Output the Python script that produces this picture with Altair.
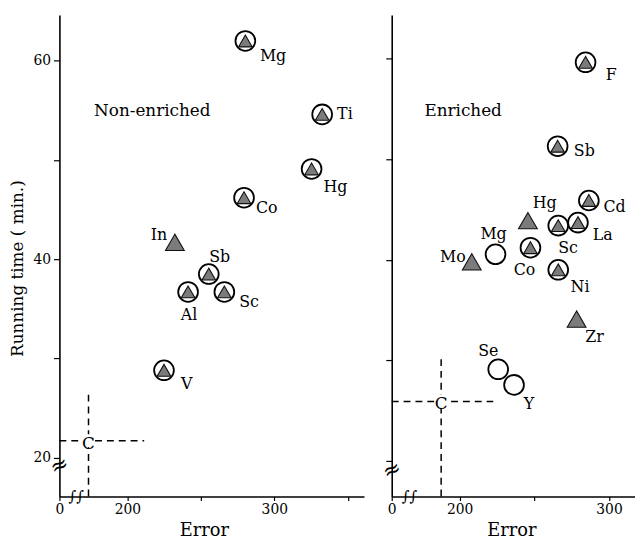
import altair as alt
import pandas as pd

FONT = "DejaVu Serif"

# ---------------- data ----------------
# Non-enriched panel
left_el = ["Mg", "Ti", "Hg", "Co", "In", "Sb", "Al", "Sc", "V"]
left_err = [280.3, 332.6, 325.4, 279.4, 232.3, 255.4, 241.3, 266.0, 224.9]
left_time = [62.0, 54.6, 49.1, 46.2, 41.7, 38.5, 36.7, 36.7, 28.8]
left_kind = ["ring_tri", "ring_tri", "ring_tri", "ring_tri", "tri",
             "ring_tri", "ring_tri", "ring_tri", "ring_tri"]
left_control = {"err": 173.5, "time": 21.7, "err_end": 211.4, "time_end": 26.6}

# Enriched panel
right_el = ["F", "Sb", "Cd", "Hg", "Sc", "La", "Mg", "Co", "Mo", "Ni", "Zr", "Se", "Y"]
right_err = [284.3, 265.6, 286.5, 245.7, 266.0, 279.2, 224.0, 247.4, 208.1, 266.0, 278.3, 225.8, 236.4]
right_time = [59.65, 51.3, 45.9, 43.9, 43.4, 43.7, 40.55, 41.2, 39.8, 39.0, 34.1, 29.1, 27.55]
right_kind = ["ring_tri", "ring_tri", "ring_tri", "tri", "ring_tri", "ring_tri", "ring",
              "ring_tri", "tri", "ring_tri", "tri", "ring", "ring"]
right_control = {"err": 187.6, "time": 25.9, "err_end": 222.5, "time_end": 30.1}

y_ticks = [20, 30, 40, 50, 60]

# ---------------- layout / style (pixels) ----------------
left_label_off = [(28, 15), (23, 0), (24, 18), (23, 10), (-16, -7), (11, -17), (1, 23), (25, 10), (23, 14)]
right_label_off = [(26, 13), (27, 5), (26, 7), (17, -18), (10, 23), (25, 13), (-2, -20), (-6, 23),
                   (-19, -5), (22, 17), (18, 18), (-10, -18), (15, 19)]


def panel(name, el, err, time, kind, offs, control, xdom, ydom, w, h,
          xticks, show_y_labels, tag_pos, brk, xtitle_x):
    kx = w / (xdom[1] - xdom[0])
    ky = h / (ydom[1] - ydom[0])
    pts = pd.DataFrame({"x": err, "y": time, "el": el, "kind": kind})
    labels = pd.DataFrame({
        "x": [e + o[0] / kx for e, o in zip(err, offs)],
        "y": [t - o[1] / ky for t, o in zip(time, offs)],
        "el": el,
    })

    xlab_expr = ("datum.value < 190 ? '0' : ((datum.value == 200 || datum.value == 300) ? datum.label : '')")
    X = alt.X("x:Q", scale=alt.Scale(domain=xdom, nice=False, zero=False),
              axis=alt.Axis(values=[xdom[0]] + xticks, labelExpr=xlab_expr, title="Error",
                            tickSize=4, labelPadding=2, titleFontSize=18, titlePadding=5,
                            labelFontSize=14, labelFlush=False, titleX=xtitle_x))
    if show_y_labels:
        yaxis = alt.Axis(values=y_ticks, labelExpr="datum.value % 20 == 0 ? datum.label : ''",
                         title="Running time  ( min.)", tickSize=6, labelPadding=3,
                         titleFontSize=17, titlePadding=7, labelFontSize=14, titleY=256)
    else:
        yaxis = alt.Axis(values=y_ticks, labels=False, title=None, tickSize=6)
    Y = alt.Y("y:Q", scale=alt.Scale(domain=ydom, nice=False, zero=False), axis=yaxis)

    rules = pd.DataFrame({
        "x": [control["err"], xdom[0]],
        "x2": [control["err"], control["err_end"]],
        "y": [ydom[0], control["time"]],
        "y2": [control["time_end"], control["time"]],
    })
    cpt = pd.DataFrame({"x": [control["err"]], "y": [control["time"]], "t": ["C"]})
    tag = pd.DataFrame({"x": [tag_pos[0]], "y": [tag_pos[1]], "t": [name]})
    brk_df = pd.DataFrame({"x": [xdom[0], brk[0]], "y": [brk[1], ydom[0]], "t": ["≈", "∫∫"]})

    base_rule = alt.Chart(rules).mark_rule(color="black", strokeWidth=1.5, strokeDash=[7, 5]).encode(
        x=X, y=Y, x2="x2:Q", y2="y2:Q")
    c_bg = alt.Chart(cpt).mark_point(shape="square", filled=True, color="white", size=170,
                                     opacity=1).encode(x=X, y=Y)
    c_txt = alt.Chart(cpt).mark_text(font=FONT, fontSize=17, color="black", dy=3).encode(
        x=X, y=Y, text="t:N")
    rings = alt.Chart(pts).transform_filter(
        "datum.kind == 'ring_tri' || datum.kind == 'ring'").mark_point(
        shape="circle", filled=False, size=400, stroke="black", strokeWidth=1.8, opacity=1).encode(x=X, y=Y)
    small_tri = alt.Chart(pts).transform_filter("datum.kind == 'ring_tri'").mark_point(
        shape="triangle-up", filled=True, fill="#7b7b7b", stroke="#111111", strokeWidth=1.1,
        size=190, opacity=1).encode(x=X, y=Y)
    big_tri = alt.Chart(pts).transform_filter("datum.kind == 'tri'").mark_point(
        shape="triangle-up", filled=True, fill="#7b7b7b", stroke="#111111", strokeWidth=1.1,
        size=360, opacity=1).encode(x=X, y=Y)
    lab = alt.Chart(labels).mark_text(font=FONT, fontSize=16, color="black").encode(
        x=X, y=Y, text="el:N")
    tag_txt = alt.Chart(tag).mark_text(font=FONT, fontSize=17, color="black", align="left").encode(
        x=X, y=Y, text="t:N")
    brk_y = alt.Chart(brk_df.iloc[[0]]).mark_text(font=FONT, fontSize=22, color="black", angle=335).encode(
        x=X, y=Y, text="t:N")
    brk_x = alt.Chart(brk_df.iloc[[1]]).mark_text(font=FONT, fontSize=15, color="black").encode(
        x=X, y=Y, text="t:N")

    return alt.layer(base_rule, c_bg, c_txt, rings, small_tri, big_tri, lab, tag_txt,
                     brk_y, brk_x).properties(width=w, height=h)


left = panel("Non-enriched", left_el, left_err, left_time, left_kind, left_label_off, left_control,
             [153.7, 361.1], [16.07, 64.63], 308, 487, [200, 250, 300, 350], True,
             (177.3, 54.9), (165.2, 19.2), 146)
right = panel("Enriched", right_el, right_err, right_time, right_kind, right_label_off, right_control,
              [154.5, 317.4], [16.44, 64.37], 246, 487, [200, 250, 300], False,
              (176.4, 54.8), (166.4, 19.1), 121)

chart = alt.hconcat(left, right, spacing=14).properties(
    padding={"left": 0, "top": 4, "right": 0, "bottom": 0}
).configure_view(strokeWidth=0).configure_axis(
    grid=False, domainColor="black", domainWidth=1.6, tickColor="black", tickWidth=1.2,
    labelColor="black", titleColor="black", labelFont=FONT, titleFont=FONT,
    titleFontWeight="normal"
)

chart.save("out.html", embed_options={"renderer": "svg", "actions": False})
